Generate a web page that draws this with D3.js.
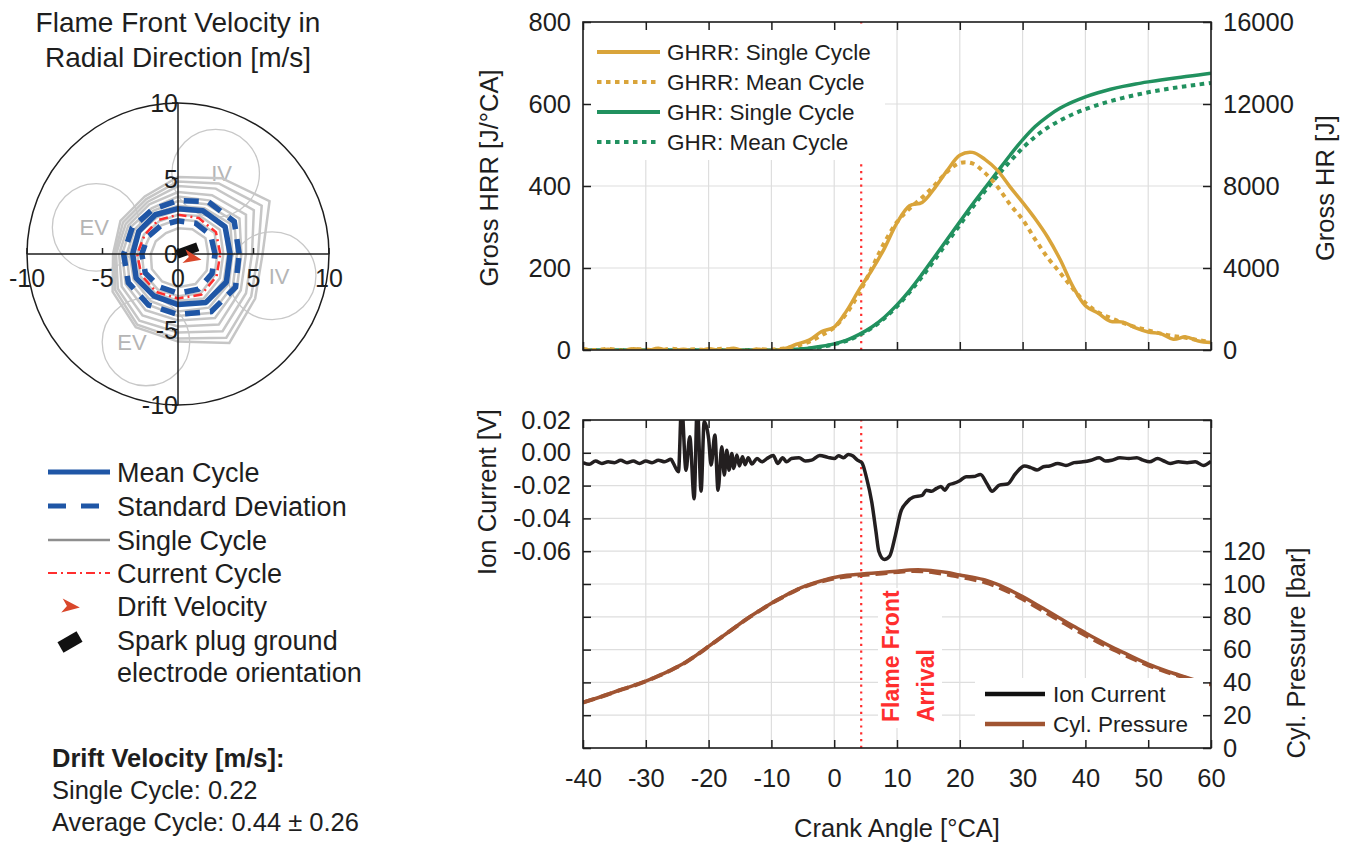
<!DOCTYPE html>
<html>
<head>
<meta charset="utf-8">
<script src="https://cdn.jsdelivr.net/npm/d3@7"></script>
<style>
  body { margin: 0; background: #fff; }
  svg { font-family: "Liberation Sans", Arial, Helvetica, sans-serif; }
</style>
</head>
<body>
<div id="chart"></div>
<script>

// ---------- DATA ----------

// polar plot: flame front velocity [m/s] per direction (deg, counter-clockwise from +x)
const directions = [0, 30, 60, 90, 120, 150, 180, 210, 240, 270, 300, 330];
const meanCycle  = [3.45, 3.6, 3.3, 3.0, 3.0, 3.0, 3.0, 3.2, 3.2, 3.35, 3.7, 3.7];
const stdUpper   = [4.05, 4.3, 4.0, 3.55, 3.4, 3.5, 3.6, 3.8, 3.9, 4.0, 4.4, 4.4];
const stdLower   = [2.45, 2.5, 2.35, 2.2, 2.2, 2.3, 2.4, 2.5, 2.5, 2.6, 2.7, 2.6];
const currentCycle = [2.8, 2.9, 2.75, 2.6, 2.6, 2.55, 2.7, 2.8, 2.9, 2.95, 3.1, 2.95];
const singleCycles = [
  [2.0, 2.1, 1.9, 1.7, 1.6, 1.7, 1.8, 2.0, 2.1, 2.2, 2.3, 2.2],
  [2.6, 2.8, 2.5, 2.3, 2.2, 2.2, 2.4, 2.6, 2.7, 2.8, 3.0, 2.8],
  [3.0, 3.2, 2.9, 2.6, 2.5, 2.6, 2.7, 2.9, 3.0, 3.1, 3.4, 3.2],
  [3.3, 3.6, 3.2, 2.9, 2.8, 2.9, 3.0, 3.2, 3.3, 3.4, 3.7, 3.5],
  [3.6, 4.0, 3.5, 3.2, 3.1, 3.1, 3.2, 3.4, 3.6, 3.8, 4.1, 3.9],
  [3.9, 4.3, 3.8, 3.5, 3.3, 3.3, 3.4, 3.7, 3.9, 4.1, 4.5, 4.2],
  [4.2, 4.7, 4.1, 3.8, 3.5, 3.6, 3.7, 4.0, 4.3, 4.4, 4.9, 4.5],
  [4.5, 5.2, 4.5, 4.1, 3.8, 3.8, 3.9, 4.3, 4.7, 4.8, 5.4, 4.8],
  [4.9, 5.8, 5.0, 4.5, 4.0, 4.0, 4.1, 4.6, 5.1, 5.2, 5.9, 5.2],
  [5.3, 6.4, 5.4, 4.8, 4.2, 4.2, 4.2, 4.8, 5.4, 5.6, 6.4, 5.6],
  [5.6, 7.0, 5.8, 5.1, 4.4, 4.4, 4.3, 5.0, 5.6, 5.8, 6.8, 5.9]
];
const valveLabels = ["IV", "IV", "EV", "EV"];
const valveAngle  = [65, -13, 162, 250];
const valveDist   = [5.9, 6.4, 5.7, 6.2];
const valveLabelShift = [6, 7, -2, -14];
const valveSize   = 2.9;
const driftAngle = -12;
const electrodeAngle = 20;
const polarTicks = [-10, -5, 0, 5, 10];

// crank angle grid for heat release and pressure
const crank = [-40, -38, -36, -34, -32, -30, -28, -26, -24, -22, -20, -18, -16, -14, -12,
  -10, -8, -6, -4, -2, 0, 2, 4, 6, 8, 10, 12, 14, 16, 18, 20, 22, 24, 26, 28, 30,
  32, 34, 36, 38, 40, 42, 44, 46, 48, 50, 52, 54, 56, 58, 60];

const ghrrSingle = [3, -3, 2, -4, 3, -2, 4, -3, 2, -4, 3, -2, 4, -3, 2,
  -2, 3, 14, 24, 45, 56, 96, 148, 195, 248, 310, 352, 360, 395, 438, 475,
  482, 465, 438, 398, 360, 320, 275, 220, 155, 108, 90, 70, 68, 54, 44, 40, 26, 32, 22, 18];
const ghrrMean = [2, 0, 3, -1, 2, 1, -2, 3, 0, 2, -1, 3, 1, -2, 2,
  1, 4, 10, 20, 36, 55, 90, 140, 200, 262, 312, 345, 372, 402, 435, 456,
  455, 432, 398, 355, 318, 270, 225, 188, 150, 115, 92, 78, 66, 56, 48, 40, 34, 30, 24, 20];
const ghrSingle = [0, 0, 0, 0, 0, 0, 0, 0, 0, 0, 0, 0, 0, 0, 0,
  0, 10, 40, 90, 180, 300, 480, 760, 1120, 1600, 2200, 2900, 3700, 4550, 5400, 6250,
  7100, 7900, 8700, 9500, 10250, 10900, 11400, 11800, 12100, 12350, 12550, 12720, 12860,
  12980, 13080, 13170, 13260, 13340, 13420, 13500];
const ghrMean = [0, 0, 0, 0, 0, 0, 0, 0, 0, 0, 0, 0, 0, 0, 0,
  0, 8, 30, 70, 150, 280, 450, 720, 1080, 1550, 2130, 2820, 3580, 4400, 5250, 6100,
  6950, 7750, 8500, 9200, 9850, 10400, 10850, 11200, 11500, 11750, 11960, 12140, 12300,
  12440, 12570, 12680, 12780, 12870, 12950, 13030];

const pressureSingle = [27.8, 30.2, 32.8, 35.5, 38.0, 40.8, 44.0, 47.5, 51.5, 56.5, 62.0,
  67.5, 73.0, 78.5, 83.5, 88.3, 92.5, 96.5, 99.6, 102.0, 104.0, 105.3, 106.0, 106.6, 107.2,
  107.8, 108.5, 108.6, 108.0, 107.0, 105.5, 104.2, 102.5, 99.8, 96.3, 92.3, 88.0, 83.5,
  79.0, 74.5, 70.2, 66.0, 62.0, 58.3, 54.6, 51.2, 48.3, 45.6, 43.2, 40.8, 38.5];
const pressureMean = [27.7, 30.1, 32.7, 35.4, 37.9, 40.7, 43.9, 47.4, 51.4, 56.4, 61.9,
  67.4, 72.9, 78.4, 83.4, 88.2, 92.4, 96.3, 99.3, 101.6, 103.4, 104.6, 105.3, 105.9, 106.6,
  107.3, 107.9, 107.8, 107.0, 105.8, 104.3, 102.8, 101.0, 98.3, 94.8, 90.8, 86.5, 82.0,
  77.5, 73.0, 68.8, 64.7, 60.8, 57.2, 53.7, 50.4, 47.6, 45.0, 42.7, 40.4, 38.2];

// ion current [V]
const ionCA = [-40, -39, -38, -37, -36, -35, -34, -33, -32, -31,
  -30, -29, -28, -27, -26, -25.6, -24.8, -24.3, -23.6, -23.0,
  -22.3, -21.8, -21.2, -20.7, -20.0, -19.6, -19.0, -18.5, -17.9, -17.5,
  -17.1, -16.75, -16.3, -16.0, -15.5, -15.1, -14.6, -14.2, -13.7, -13.1,
  -12.3, -11.5, -10.7, -9.7, -9.0, -8.2, -7.6, -6.8, -5.6, -4.6,
  -3.6, -2.3, -1.0, 0.0, 0.7, 1.5, 2.25, 3.0, 3.7, 4.4,
  5.17, 5.98, 6.65, 7.1, 7.97, 8.83, 9.76, 10.6, 11.6, 12.6,
  14.0, 14.65, 15.5, 16.3, 17.0, 17.6, 18.3, 19.0, 20.0, 21.0,
  22.2, 23.3, 24.3, 25.15, 26.3, 27.6, 28.9, 30.3, 31.3, 32.3,
  33.3, 34.3, 35.6, 36.9, 38.2, 39.6, 40.9, 42.2, 43.2, 44.2,
  45.5, 46.9, 48.2, 49.2, 50.2, 51.5, 52.5, 53.5, 54.8, 56.2,
  57.5, 58.8, 60];
const ionV = [-0.006, -0.007, -0.005, -0.0065, -0.0055, -0.006, -0.0045, -0.006, -0.005, -0.0065,
  -0.005, -0.006, -0.0045, -0.0055, -0.004, -0.0065, -0.0116, 0.03, -0.0106, 0.0098,
  -0.028, 0.03, -0.0234, 0.019, 0.0088, -0.0075, 0.0108, -0.0228, 0.0037, -0.0136,
  0.0016, -0.0106, -0.0004, -0.0095, -0.0014, -0.008, -0.0024, -0.0073, -0.003, -0.0068,
  -0.0035, -0.0055, -0.0035, -0.0016, -0.0065, -0.003, -0.0055, -0.0035, -0.003, -0.005,
  -0.0045, -0.0016, -0.0028, -0.0035, -0.0018, -0.003, -0.001, -0.002, -0.0045, -0.006,
  -0.0156, -0.030, -0.048, -0.060, -0.065, -0.063, -0.050, -0.036, -0.030, -0.027,
  -0.026, -0.0228, -0.0235, -0.0217, -0.0205, -0.0228, -0.0195, -0.0187, -0.017, -0.0146,
  -0.0145, -0.0132, -0.0187, -0.0234, -0.0197, -0.019, -0.0126, -0.0081, -0.009, -0.0105,
  -0.0085, -0.008, -0.0065, -0.0077, -0.006, -0.0055, -0.0045, -0.003, -0.005, -0.0045,
  -0.003, -0.0035, -0.003, -0.0045, -0.0055, -0.0035, -0.005, -0.0065, -0.0055, -0.006,
  -0.0055, -0.0077, -0.0052];

const flameArrival = 4.3;

// tick values
const xTicks = [-40, -30, -20, -10, 0, 10, 20, 30, 40, 50, 60];
const hrrTicks = [0, 200, 400, 600, 800];
const hrTicks = [0, 4000, 8000, 12000, 16000];
const ionTicks = [-0.18, -0.16, -0.14, -0.12, -0.10, -0.08, -0.06, -0.04, -0.02, 0, 0.02];
const pTicks = [0, 20, 40, 60, 80, 100, 120, 140, 160, 180, 200];


// ---------- SVG ----------
const width = 1352;
const height = 843;
const svg = d3.select("#chart").append("svg")
  .attr("width", width)
  .attr("height", height);

const ink = "#1e1e1e";
const blue = "#1f56a6";
const gold = "#d9a43a";
const green = "#21915f";
const brown = "#a05432";
const red = "#ff2e2e";


// ---------- POLAR PLOT ----------
const pc = { x: 178, y: 254 };
const rScale = d3.scaleLinear().domain([0, 10]).range([0, 151]);
const axisScale = d3.scaleLinear().domain([-10, 10]).range([-151, 151]);
const rad = d => d * Math.PI / 180;

svg.append("text").attr("x", pc.x).attr("y", 32).attr("text-anchor", "middle")
  .attr("font-size", 28).attr("fill", ink).text("Flame Front Velocity in");
svg.append("text").attr("x", pc.x).attr("y", 67).attr("text-anchor", "middle")
  .attr("font-size", 28).attr("fill", ink).text("Radial Direction [m/s]");

const polar = svg.append("g").attr("transform", `translate(${pc.x},${pc.y})`);

polar.append("circle").attr("r", rScale(10))
  .attr("fill", "none").attr("stroke", ink).attr("stroke-width", 1.5);

valveLabels.forEach((lab, i) => {
  const cx = rScale(valveDist[i]) * Math.cos(rad(valveAngle[i]));
  const cy = -rScale(valveDist[i]) * Math.sin(rad(valveAngle[i]));
  polar.append("circle").attr("cx", cx).attr("cy", cy).attr("r", rScale(valveSize))
    .attr("fill", "none").attr("stroke", "#c8c8c8").attr("stroke-width", 1.3);
  polar.append("text").attr("x", cx + valveLabelShift[i]).attr("y", cy + 8).attr("text-anchor", "middle")
    .attr("font-size", 22).attr("fill", "#b5b5b5").text(lab);
});

const radial = d3.lineRadial()
  .angle((d, i) => rad(90 - directions[i]))
  .radius(d => rScale(d))
  .curve(d3.curveLinearClosed);

polar.selectAll(".single").data(singleCycles).enter().append("path")
  .attr("class", "single")
  .attr("d", radial)
  .attr("fill", "none").attr("stroke", "#c6c6c6").attr("stroke-width", 2.5);

[stdUpper, stdLower].forEach(s => {
  polar.append("path").attr("d", radial(s)).attr("fill", "none")
    .attr("stroke", blue).attr("stroke-width", 5.5).attr("stroke-dasharray", "15,10");
});
polar.append("path").attr("d", radial(meanCycle)).attr("fill", "none")
  .attr("stroke", blue).attr("stroke-width", 5.5).attr("stroke-linejoin", "round");
polar.append("path").attr("d", radial(currentCycle)).attr("fill", "none")
  .attr("stroke", red).attr("stroke-width", 2.5).attr("stroke-dasharray", "9,4,2,4");

// axes cross
polar.append("line").attr("x1", axisScale(-10)).attr("x2", axisScale(10))
  .attr("stroke", ink).attr("stroke-width", 1.5);
polar.append("line").attr("y1", axisScale(-10)).attr("y2", axisScale(10))
  .attr("stroke", ink).attr("stroke-width", 1.5);

polarTicks.forEach(t => {
  polar.append("line").attr("x1", axisScale(t)).attr("x2", axisScale(t))
    .attr("y1", 0).attr("y2", -6).attr("stroke", ink).attr("stroke-width", 1.5);
  polar.append("line").attr("x1", 0).attr("x2", -6)
    .attr("y1", -axisScale(t)).attr("y2", -axisScale(t)).attr("stroke", ink).attr("stroke-width", 1.5);
  polar.append("text").attr("x", axisScale(t)).attr("y", 33).attr("text-anchor", "middle")
    .attr("font-size", 25).attr("fill", ink).text(t);
  polar.append("text").attr("x", 0).attr("y", -axisScale(t) + 9).attr("text-anchor", "end")
    .attr("font-size", 25).attr("fill", ink).text(t);
});

// spark plug electrode and drift arrow
polar.append("rect").attr("x", -1).attr("y", -4.5).attr("width", 22).attr("height", 9)
  .attr("fill", "#111").attr("transform", `rotate(${-electrodeAngle})`);
const arrowPath = "M23,0 L5,-7 L10,0 L5,7 Z";
polar.append("path").attr("d", arrowPath).attr("fill", "#d9472b")
  .attr("transform", `translate(1,1) rotate(${-driftAngle})`);


// ---------- POLAR LEGEND ----------
const leg = svg.append("g");
const legRows = [472, 506, 540, 573, 606, 640];
const legLabels = ["Mean Cycle", "Standard Deviation", "Single Cycle", "Current Cycle",
  "Drift Velocity", "Spark plug ground"];
leg.append("line").attr("x1", 48).attr("x2", 110).attr("y1", legRows[0]).attr("y2", legRows[0])
  .attr("stroke", blue).attr("stroke-width", 5);
leg.append("line").attr("x1", 48).attr("x2", 110).attr("y1", legRows[1]).attr("y2", legRows[1])
  .attr("stroke", blue).attr("stroke-width", 5).attr("stroke-dasharray", "18,15");
leg.append("line").attr("x1", 48).attr("x2", 110).attr("y1", legRows[2]).attr("y2", legRows[2])
  .attr("stroke", "#8e8e8e").attr("stroke-width", 2.5);
leg.append("line").attr("x1", 48).attr("x2", 110).attr("y1", legRows[3]).attr("y2", legRows[3])
  .attr("stroke", red).attr("stroke-width", 2).attr("stroke-dasharray", "9,4,2,4");
leg.append("path").attr("d", arrowPath).attr("fill", "#d9472b")
  .attr("transform", `translate(57,${legRows[4] - 1}) rotate(${-driftAngle / 2})`);
leg.append("rect").attr("x", -11).attr("y", -6).attr("width", 22).attr("height", 12)
  .attr("fill", "#111").attr("transform", `translate(70,${legRows[5] + 2}) rotate(-30)`);
legLabels.forEach((l, i) => {
  leg.append("text").attr("x", 117).attr("y", legRows[i] + 9.5)
    .attr("font-size", 27).attr("fill", ink).text(l);
});
leg.append("text").attr("x", 117).attr("y", 681.5)
  .attr("font-size", 27).attr("fill", ink).text("electrode orientation");

svg.append("text").attr("x", 52).attr("y", 767).attr("font-size", 25.5)
  .attr("font-weight", "bold").attr("fill", ink).text("Drift Velocity [m/s]:");
svg.append("text").attr("x", 52).attr("y", 799).attr("font-size", 25.5)
  .attr("fill", ink).text("Single Cycle: 0.22");
svg.append("text").attr("x", 52).attr("y", 831).attr("font-size", 25.5)
  .attr("fill", ink).text("Average Cycle: 0.44 \u00b1 0.26");


// ---------- SCALES ----------
const x = d3.scaleLinear().domain([-40, 60]).range([583, 1211]);
const yHRR = d3.scaleLinear().domain([0, 800]).range([350, 22]);
const yGHR = d3.scaleLinear().domain([0, 16000]).range([350, 22]);
const yIon = d3.scaleLinear().domain([-0.18, 0.02]).range([748, 420]);
const yP = d3.scaleLinear().domain([0, 200]).range([748, 420]);

const defs = svg.append("defs");
defs.append("clipPath").attr("id", "clipTop").append("rect")
  .attr("x", x(-40)).attr("y", yHRR(800)).attr("width", x(60) - x(-40)).attr("height", yHRR(0) - yHRR(800));
defs.append("clipPath").attr("id", "clipBot").append("rect")
  .attr("x", x(-40)).attr("y", yIon(0.02)).attr("width", x(60) - x(-40)).attr("height", yIon(-0.18) - yIon(0.02));


// ---------- GRIDS ----------
function grid(yScale, yVals, y0, y1) {
  const g = svg.append("g").attr("stroke", "#dedede").attr("stroke-width", 1.2);
  xTicks.forEach(t => g.append("line").attr("x1", x(t)).attr("x2", x(t)).attr("y1", y0).attr("y2", y1));
  yVals.forEach(t => g.append("line").attr("x1", x(-40)).attr("x2", x(60))
    .attr("y1", yScale(t)).attr("y2", yScale(t)));
}
grid(yHRR, hrrTicks, yHRR(0), yHRR(800));
grid(yIon, ionTicks, yIon(-0.18), yIon(0.02));

// flame arrival markers
[[yHRR(0), yHRR(800)], [yIon(-0.18), yIon(0.02)]].forEach(r => {
  svg.append("line").attr("x1", x(flameArrival)).attr("x2", x(flameArrival))
    .attr("y1", r[0]).attr("y2", r[1])
    .attr("stroke", red).attr("stroke-width", 2.2).attr("stroke-dasharray", "2.2,4.6");
});


// ---------- TOP CHART: HEAT RELEASE ----------
const topPlot = svg.append("g").attr("clip-path", "url(#clipTop)");
function addLine(g, xs, ys, yScale, color, w, dash, curve) {
  const line = d3.line()
    .x((d, i) => x(xs[i]))
    .y(d => yScale(d))
    .curve(curve || d3.curveCatmullRom.alpha(0.5));
  const p = g.append("path").attr("d", line(ys)).attr("fill", "none")
    .attr("stroke", color).attr("stroke-width", w).attr("stroke-linejoin", "round");
  if (dash) p.attr("stroke-dasharray", dash);
  return p;
}
addLine(topPlot, crank, ghrMean, yGHR, green, 4, "4.5,4.5");
addLine(topPlot, crank, ghrSingle, yGHR, green, 3.5);
addLine(topPlot, crank, ghrrMean, yHRR, gold, 4, "4.5,4.5");
addLine(topPlot, crank, ghrrSingle, yHRR, gold, 3.5);

// legend top
svg.append("rect").attr("x", 585).attr("y", 24).attr("width", 300).attr("height", 136).attr("fill", "#fff");
const topLegend = [
  { label: "GHRR: Single Cycle", color: gold, dash: null },
  { label: "GHRR: Mean Cycle", color: gold, dash: "4.5,4.5" },
  { label: "GHR: Single Cycle", color: green, dash: null },
  { label: "GHR: Mean Cycle", color: green, dash: "4.5,4.5" }
];
topLegend.forEach((d, i) => {
  const yy = 52 + i * 30;
  const l = svg.append("line").attr("x1", 597).attr("x2", 660).attr("y1", yy).attr("y2", yy)
    .attr("stroke", d.color).attr("stroke-width", 4);
  if (d.dash) l.attr("stroke-dasharray", d.dash);
  svg.append("text").attr("x", 667).attr("y", yy + 8).attr("font-size", 22.5)
    .attr("fill", ink).text(d.label);
});


// ---------- BOTTOM CHART: ION CURRENT + PRESSURE ----------
svg.append("rect").attr("x", 878).attr("y", 588).attr("width", 64).attr("height", 140).attr("fill", "#fff");
svg.append("text").attr("transform", `translate(891,722) rotate(-90)`).attr("dy", "0.35em")
  .attr("font-size", 23).attr("font-weight", "bold").attr("fill", red).text("Flame Front");
svg.append("text").attr("transform", `translate(926,722) rotate(-90)`).attr("dy", "0.35em")
  .attr("font-size", 23).attr("font-weight", "bold").attr("fill", red).text("Arrival");

const botPlot = svg.append("g").attr("clip-path", "url(#clipBot)");
addLine(botPlot, crank, pressureMean, yP, brown, 4, "12,6");
addLine(botPlot, crank, pressureSingle, yP, brown, 3.5);
addLine(botPlot, ionCA, ionV, yIon, "#231f20", 3.5, null, d3.curveMonotoneX);

svg.append("rect").attr("x", 975).attr("y", 678).attr("width", 234).attr("height", 68).attr("fill", "#fff");
[{ label: "Ion Current", color: "#111" }, { label: "Cyl. Pressure", color: brown }].forEach((d, i) => {
  const yy = 694 + i * 30;
  svg.append("line").attr("x1", 985).attr("x2", 1045).attr("y1", yy).attr("y2", yy)
    .attr("stroke", d.color).attr("stroke-width", 4.5);
  svg.append("text").attr("x", 1053).attr("y", yy + 8).attr("font-size", 22.5)
    .attr("fill", ink).text(d.label);
});


// ---------- AXES ----------
function styleAxis(g) {
  g.select(".domain").remove();
  g.attr("font-family", null).attr("font-size", 25.5);
  g.selectAll(".tick line").attr("stroke", ink).attr("stroke-width", 1.5);
  g.selectAll(".tick text").attr("fill", ink);
}
const blank = () => "";

svg.append("g").attr("transform", `translate(${x(-40)},0)`)
  .call(d3.axisLeft(yHRR).tickValues(hrrTicks).tickSize(-8).tickPadding(12)).call(styleAxis);
svg.append("g").attr("transform", `translate(${x(60)},0)`)
  .call(d3.axisRight(yGHR).tickValues(hrTicks).tickSize(-8).tickPadding(12).tickFormat(d => d)).call(styleAxis);
svg.append("g").attr("transform", `translate(0,${yHRR(0)})`)
  .call(d3.axisBottom(x).tickValues(xTicks).tickSize(-8).tickFormat(blank)).call(styleAxis);
svg.append("g").attr("transform", `translate(0,${yHRR(800)})`)
  .call(d3.axisTop(x).tickValues(xTicks).tickSize(-8).tickFormat(blank)).call(styleAxis);

svg.append("g").attr("transform", `translate(${x(-40)},0)`)
  .call(d3.axisLeft(yIon).tickValues(ionTicks).tickSize(-8).tickPadding(12)
    .tickFormat(d => d < -0.065 ? "" : (Math.abs(d) < 1e-9 ? "0.00" : d.toFixed(2))))
  .call(styleAxis);
svg.append("g").attr("transform", `translate(${x(60)},0)`)
  .call(d3.axisRight(yP).tickValues(pTicks).tickSize(-8).tickPadding(12)
    .tickFormat(d => d > 120 ? "" : d)).call(styleAxis);
svg.append("g").attr("transform", `translate(0,${yIon(-0.18)})`)
  .call(d3.axisBottom(x).tickValues(xTicks).tickSize(-8).tickPadding(21).tickFormat(d => String(d)))
  .call(styleAxis);
svg.append("g").attr("transform", `translate(0,${yIon(0.02)})`)
  .call(d3.axisTop(x).tickValues(xTicks).tickSize(-8).tickFormat(blank)).call(styleAxis);

// axis boxes
[[yHRR(800), yHRR(0)], [yIon(0.02), yIon(-0.18)]].forEach(r => {
  svg.append("rect").attr("x", x(-40)).attr("y", r[0])
    .attr("width", x(60) - x(-40)).attr("height", r[1] - r[0])
    .attr("fill", "none").attr("stroke", ink).attr("stroke-width", 1.6);
});

// axis titles
function vTitle(cx, cy, txt) {
  svg.append("text").attr("transform", `translate(${cx},${cy}) rotate(-90)`)
    .attr("text-anchor", "middle").attr("dy", "0.35em")
    .attr("font-size", 25.5).attr("fill", ink).text(txt);
}
vTitle(489, 178, "Gross HRR [J/\u00b0CA]");
vTitle(1325, 188, "Gross HR [J]");
vTitle(487, 492, "Ion Current [V]");
vTitle(1296, 653, "Cyl. Pressure [bar]");
svg.append("text").attr("x", 897).attr("y", 837).attr("text-anchor", "middle")
  .attr("font-size", 25.5).attr("fill", ink).text("Crank Angle [\u00b0CA]");

</script>
</body>
</html>
